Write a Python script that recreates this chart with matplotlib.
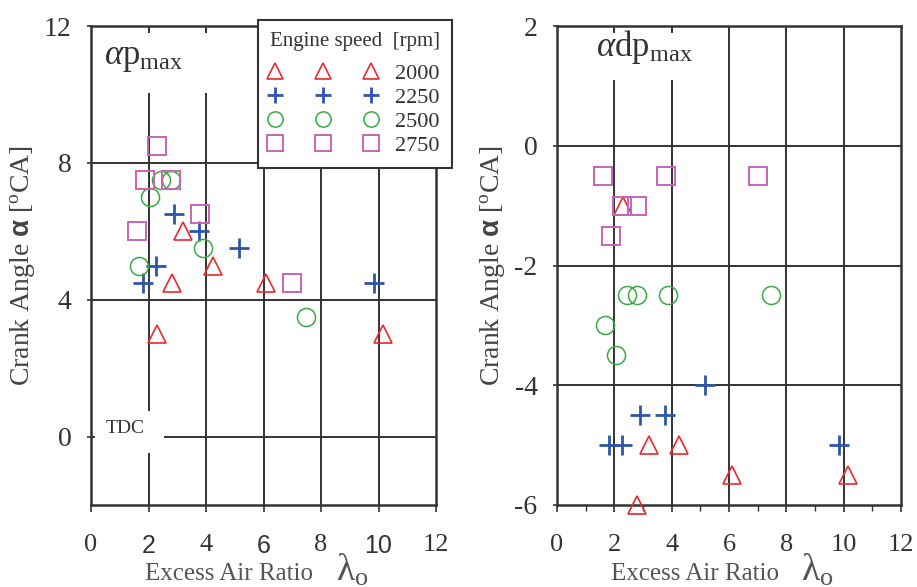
import matplotlib
matplotlib.use("Agg")
import matplotlib.pyplot as plt
from matplotlib.lines import Line2D
from matplotlib.legend_handler import HandlerTuple
from matplotlib.patches import Rectangle

plt.rcParams['font.family'] = ['Liberation Serif', 'DejaVu Serif']
plt.rcParams['mathtext.fontset'] = 'custom'
plt.rcParams['mathtext.rm'] = 'Liberation Serif'
plt.rcParams['mathtext.it'] = 'Liberation Serif:italic'
plt.rcParams['mathtext.bf'] = 'Liberation Sans:bold'

# excess air ratio for each engine speed
lam_2000 = [2.3, 2.8, 3.2, 4.25, 6.1, 10.15]
lam_2250 = [1.8, 2.25, 2.9, 3.75, 5.15, 9.85]
lam_2500 = [1.67, 2.05, 2.43, 2.78, 3.88, 7.47]
lam_2750 = [1.6, 1.87, 2.28, 2.78, 3.8, 7.0]

# crank angle of peak pressure [deg CA]
ap_2000 = [3.0, 4.5, 6.0, 5.0, 4.5, 3.0]
ap_2250 = [4.5, 5.0, 6.5, 6.0, 5.5, 4.5]
ap_2500 = [5.0, 7.0, 7.5, 7.5, 5.5, 3.5]
ap_2750 = [6.0, 7.5, 8.5, 7.5, 6.5, 4.5]

# crank angle of peak pressure rise rate [deg CA]
adp_2000 = [-1.0, -6.0, -5.0, -5.0, -5.5, -5.5]
adp_2250 = [-5.0, -5.0, -4.5, -4.5, -4.0, -5.0]
adp_2500 = [-3.0, -3.5, -2.5, -2.5, -2.5, -2.5]
adp_2750 = [-0.5, -1.5, -1.0, -1.0, -0.5, -0.5]

speeds = ['2000', '2250', '2500', '2750']
xticks = [0, 2, 4, 6, 8, 10, 12]

styles = {
    '2000': dict(marker='^', ms=13, mfc='none', mec='#e8292e', mew=1.2),
    '2250': dict(marker='+', ms=15, mec='#2e56a6', mew=2.0),
    '2500': dict(marker='o', ms=13, mfc='none', mec='#3aaa42', mew=1.1),
    '2750': dict(marker='s', ms=13.5, mfc='none', mec='#c864b4', mew=1.4),
}

INK = '#333333'
SERIF = 'Liberation Serif'
W, H = 917, 587
fig = plt.figure(figsize=(W / 100, H / 100), dpi=100)
ax1 = fig.add_axes([91 / W, 1 - 505 / H, 345 / W, 479 / H])
ax2 = fig.add_axes([557 / W, 1 - 505 / H, 344 / W, 479 / H])


def setup(ax, ylim, yticks, serif_only):
    ax.set_xlim(0, 12)
    ax.set_ylim(*ylim)
    for x in xticks[1:-1]:
        ax.axvline(x, color=INK, lw=1.4, zorder=1)
    for y in yticks:
        if ylim[0] < y < ylim[1]:
            ax.axhline(y, color=INK, lw=1.4, zorder=1)
    for s in ax.spines.values():
        s.set_color(INK)
        s.set_linewidth(1.8)
    ax.set_yticks(yticks)
    ax.set_yticklabels([str(v) for v in yticks], fontsize=20, color=INK,
                       fontfamily=SERIF)
    ax.set_xticks(xticks)
    labs = ax.set_xticklabels([str(v) for v in xticks], fontsize=19, color=INK,
                              fontfamily=SERIF)
    if not serif_only:
        for lab, v in zip(labs, xticks):
            if v in (2, 6, 10):
                lab.set_fontfamily('Liberation Sans')
                lab.set_fontsize(18)
    ax.tick_params(axis='y', direction='out', length=3, width=1.2, color=INK, pad=11)
    ax.tick_params(axis='x', direction='out', length=5, width=1.2, color=INK, pad=16)
    ax.set_ylabel(r'Crank Angle $\mathbf{\alpha}$ [$^{\rm o}$CA]', fontsize=20,
                  color='#444444', labelpad=5)
    ax.text(0.40, -0.157, 'Excess Air Ratio', transform=ax.transAxes, fontsize=18,
            color='#555555', ha='center', va='baseline')
    ax.text(0.71, -0.157, r'$\mathrm{\lambda}_{\rm o}$', transform=ax.transAxes,
            fontsize=27, color='#555555', ha='left', va='baseline')


setup(ax1, (-2, 12), [0, 4, 8, 12], serif_only=False)
setup(ax2, (-6, 2), [-6, -4, -2, 0, 2], serif_only=True)
ax2.set_xticks(range(13), minor=True)
ax2.tick_params(axis='x', which='minor', direction='out', length=4, width=1.0, color=INK)

# white masks behind the panel titles and the TDC note
ax1.add_patch(Rectangle((0.1, 10.05), 4.3, 1.75, facecolor='white', edgecolor='none', zorder=1.2))
ax1.add_patch(Rectangle((0.15, -0.47), 2.4, 1.23, facecolor='white', edgecolor='none', zorder=1.2))
ax2.add_patch(Rectangle((0.1, 1.1), 4.9, 0.78, facecolor='white', edgecolor='none', zorder=1.2))

ax1.text(0.45, 10.9, r'$\alpha\mathrm{p}_{\mathrm{max}}$', fontsize=25, color=INK, zorder=2)
ax1.text(0.5, 0.25, 'TDC', fontsize=14, color=INK, va='center', zorder=2)
ax2.text(1.35, 1.5, r'$\alpha\mathrm{dp}_{\mathrm{max}}$', fontsize=25, color=INK, zorder=2)

data1 = {'2000': (lam_2000, ap_2000), '2250': (lam_2250, ap_2250),
         '2500': (lam_2500, ap_2500), '2750': (lam_2750, ap_2750)}
data2 = {'2000': (lam_2000, adp_2000), '2250': (lam_2250, adp_2250),
         '2500': (lam_2500, adp_2500), '2750': (lam_2750, adp_2750)}

for sp in speeds:
    ax1.plot(*data1[sp], ls='none', zorder=3, clip_on=False, **styles[sp])
    ax2.plot(*data2[sp], ls='none', zorder=3, clip_on=False, **styles[sp])

handles = []
for sp in speeds:
    h = Line2D([], [], ls='none', **{**styles[sp], 'ms': 11})
    handles.append((h, h, h))
leg = ax1.legend(handles, speeds, title='Engine speed  [rpm]',
                 handler_map={tuple: HandlerTuple(ndivide=None, pad=1.73)},
                 handlelength=4.76, handletextpad=0.87, labelspacing=0.15,
                 borderpad=0.55, fontsize=16, title_fontsize=15,
                 loc='upper left', bbox_to_anchor=(258 / W, 1 - 20 / H),
                 bbox_transform=fig.transFigure, borderaxespad=0,
                 fancybox=False, framealpha=1, edgecolor=INK, alignment='left')
# a bit more room between the title and the entries
leg._legend_box.sep = 9.0
leg.get_frame().set_linewidth(1.5)
leg.set_zorder(5)
for t in leg.get_texts():
    t.set_color(INK)
leg.get_title().set_color(INK)

fig.savefig('out.png', dpi=100)
